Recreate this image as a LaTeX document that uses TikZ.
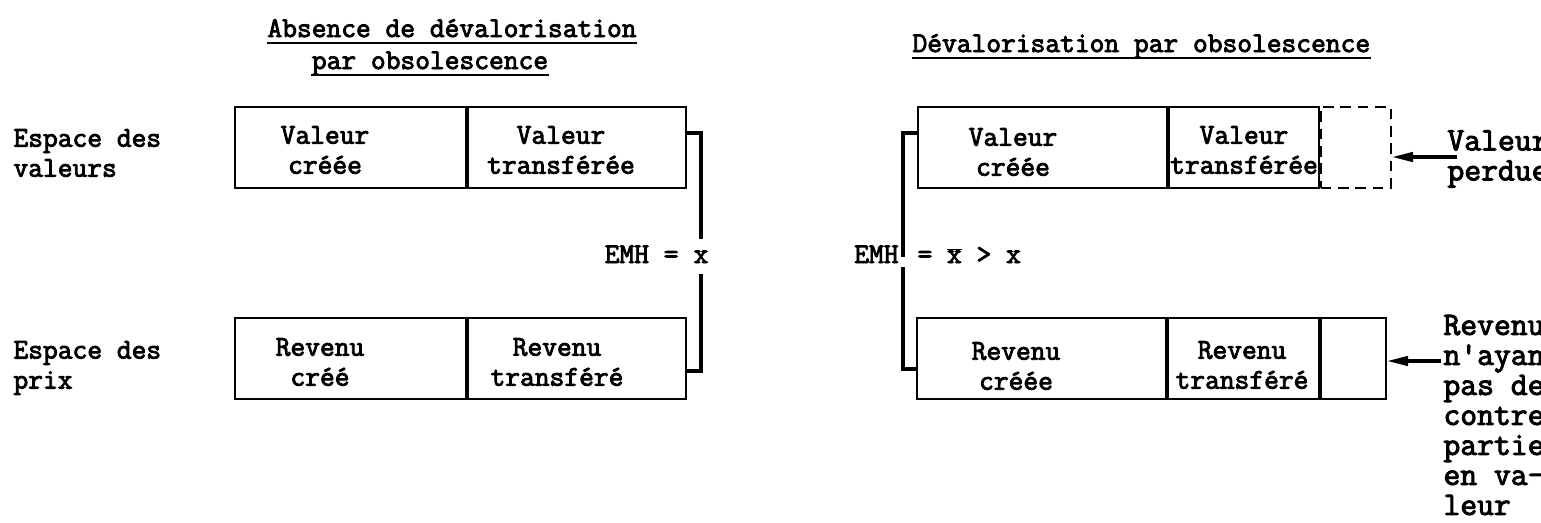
\documentclass[tikz,border=0pt]{standalone}
\usepackage{fontspec}
\usetikzlibrary{positioning,arrows.meta}
\newfontfamily\typew{Latin Modern Mono}[FakeBold=3]

\tikzset{every picture/.style={line width=0.75pt}}
\tikzset{
  cell/.style={draw, line width=1.4pt, inner sep=0pt, minimum height=60.75pt},
  lost/.style={cell, dash pattern=on 8pt off 5pt},
  txt/.style={font=\typew\fontsize{21.5pt}{22.5pt}\selectfont, inner sep=0pt, align=center},
  side/.style={font=\typew\fontsize{24.5pt}{22.5pt}\selectfont, inner sep=0pt, align=left},
  ttl/.style={txt, text depth=4pt},
  ul/.style={line width=1.5pt},
  brk/.style={line width=2.6pt},
  ptr/.style={line width=2.6pt, -{Triangle[length=16pt,width=7pt]}},
}

\begin{document}
\begin{tikzpicture}[x=0.75pt,y=0.75pt,yscale=-1,xscale=1]
\useasboundingbox (0,0) rectangle (1541,522);

% titles
\draw (452,37) node [ttl, anchor=base] (ttlA1) {Absence de dévalorisation};
\draw (430,69) node [ttl, anchor=base] (ttlA2) {par obsolescence};
\draw (912,52) node [ttl, anchor=base west] (ttlB) {Dévalorisation par obsolescence};
\draw [ul] (ttlA1.south west) -- (ttlA1.south east);
\draw [ul] (ttlA2.south west) -- (ttlA2.south east);
\draw [ul] (ttlB.south west) -- (ttlB.south east);

% row labels
\draw (13,153) node [txt, anchor=west, align=left] (espV) {Espace des\\valeurs};
\draw (13,368) node [txt, anchor=west, align=left] (espP) {Espace des\\prix};

% left boxes
\node [cell, minimum width=173.25pt] (vc) at (350.5,147.5) {};
\node [cell, minimum width=163.5pt, right=0pt of vc] (vt) {};
\node [cell, minimum width=173.25pt] (rc) at (350.5,358.5) {};
\node [cell, minimum width=163.5pt, right=0pt of rc] (rt) {};

\draw (325,150) node [txt] (tVc) {Valeur\\créée};
\draw (561,150) node [txt] (tVt) {Valeur\\transférée};
\draw (320,362) node [txt] (tRc) {Revenu\\créé};
\draw (557,362) node [txt] (tRt) {Revenu\\transféré};

% right boxes
\node [cell, minimum width=186.75pt] (vc2) at (1042.5,147.5) {};
\node [cell, minimum width=112.5pt, right=0pt of vc2] (vt2) {};
\node [lost, minimum width=52.5pt, right=0pt of vt2] (vp) {};
\node [cell, minimum width=186.75pt] (rc2) at (1041.5,358.5) {};
\node [cell, minimum width=113.25pt, right=0pt of rc2] (rt2) {};
\node [cell, minimum width=48.75pt, right=0pt of rt2] (rx) {};

\draw (1013,152) node [txt] (tVc2) {Valeur\\créée};
\draw (1244,150) node [txt] (tVt2) {Valeur\\transférée};
\draw (1016,366) node [txt] (tRc2) {Revenu\\créée};
\draw (1242,365) node [txt] (tRt2) {Revenu\\transféré};

% EMH
\draw (701,263) node [txt, anchor=base, inner ysep=4pt, text height=14pt, text depth=4pt] (xL) {x};
\draw (679,263) node [txt, anchor=base east] (emhL) {EMH =};
\draw (899,263) node [txt, anchor=base east] (emhR) {EMH};
\draw (917,263) node [txt, anchor=base west] (eqR) {= $\overline{\hbox{x}}$ > x};

\coordinate (brTL) at (701,133);
\coordinate (brBL) at (701,371);
\coordinate (brTR) at (903,133);
\coordinate (brBR) at (903,369);
\coordinate (gR1) at (903,257);
\coordinate (gR2) at (903,267);

\draw [brk] (brTL -| vt.east) -- (brTL) -- (xL.north);
\draw [brk] (xL.south) -- (brBL) -- (brBL -| rt.east);
\draw [brk] (brTR -| vc2.west) -- (brTR) -- (gR1);
\draw [brk] (gR2) -- (brBR) -- (brBR -| rc2.west);

% side notes
\draw (1447,159) node [side, anchor=west] (perd) {Valeur\\perdue};
\draw (1443,415) node [side, anchor=west] (revN) {Revenu\\n'ayant\\pas de\\contre\\partie\\en va-\\leur};

\coordinate (aP) at (1457,157);
\coordinate (aR) at (1441,361);
\draw [ptr] (aP) -- (aP -| vp.east);
\draw [ptr] (aR) -- (aR -| rx.east);

\end{tikzpicture}
\end{document}
